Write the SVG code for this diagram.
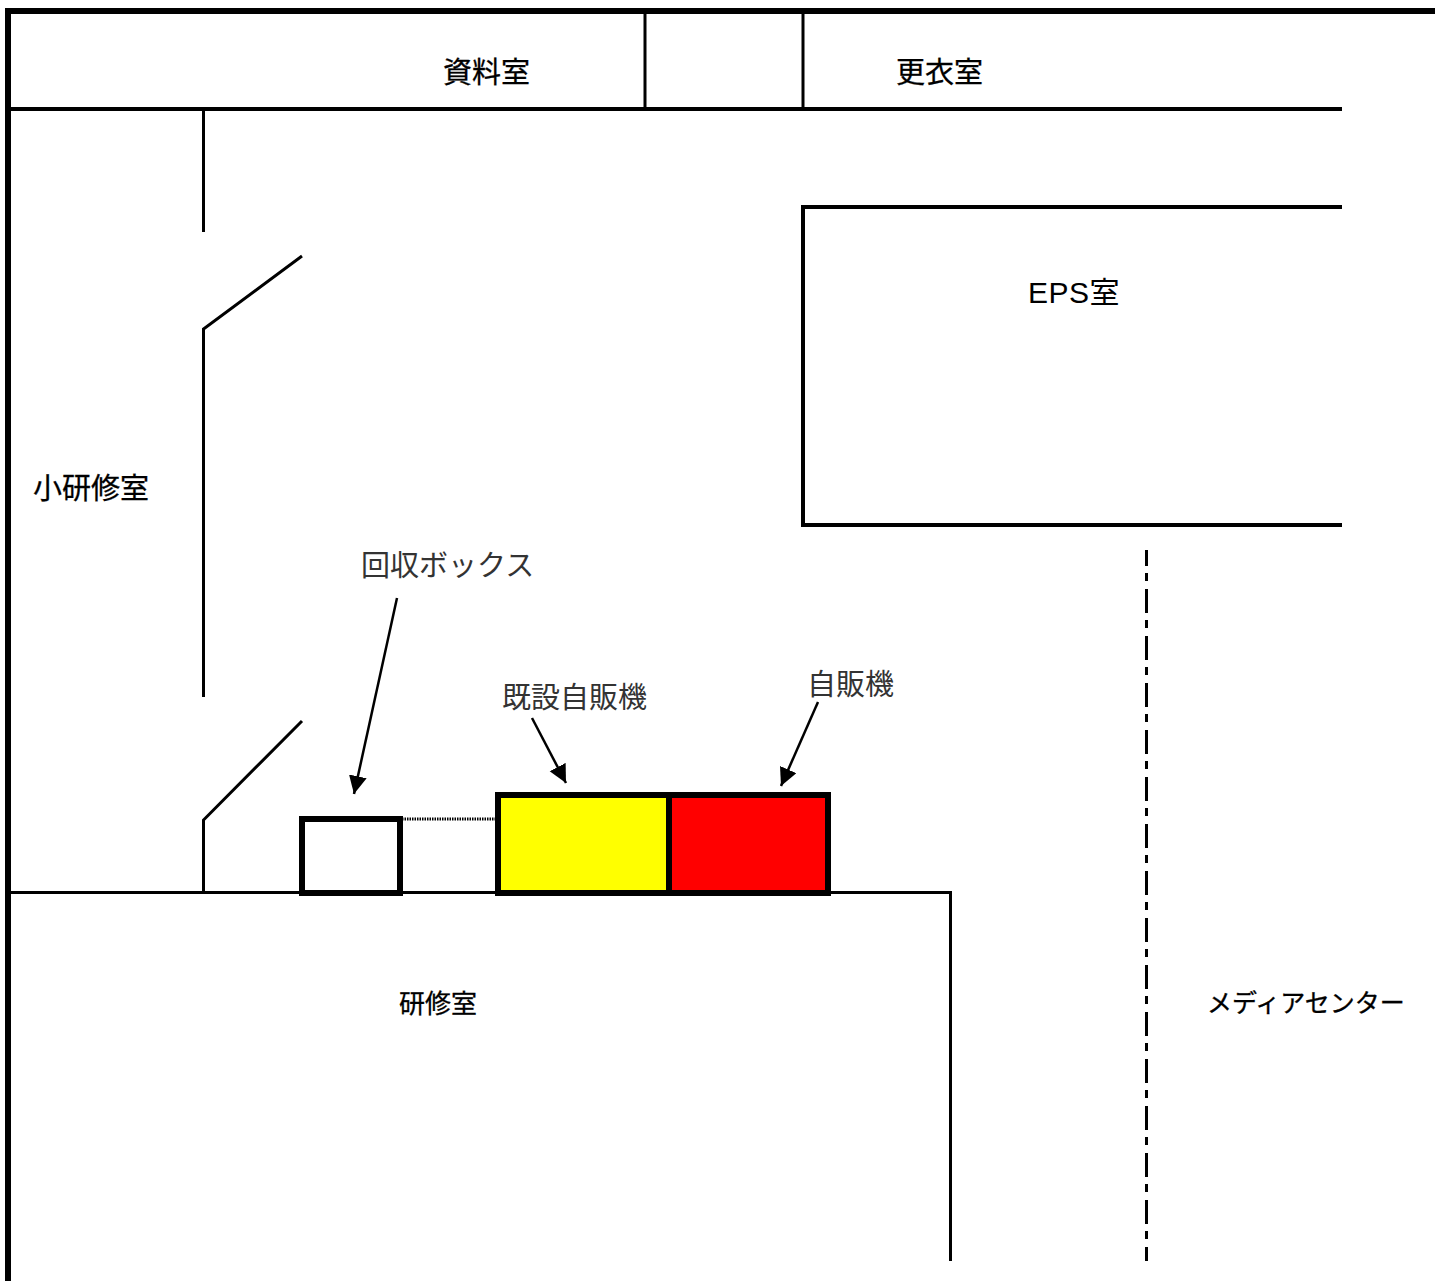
<svg xmlns="http://www.w3.org/2000/svg" width="1435" height="1281" viewBox="0 0 1435 1281">
<defs>
<marker id="ah" markerUnits="userSpaceOnUse" markerWidth="20" markerHeight="20" refX="18" refY="9" orient="auto"><path d="M0 0L18 9L0 18Z" fill="#000"/></marker>
</defs>
<style>
.w{fill:none;stroke:#000;stroke-width:3}
.o{fill:none;stroke:#000;stroke-width:6}
.b{stroke:#000;stroke-width:6}
.a{fill:none;stroke:#000;stroke-width:2.500;marker-end:url(#ah)}
text{font-family:"Noto Sans CJK JP","Liberation Sans",sans-serif;font-size:29px;fill:#000;stroke:#000;stroke-width:.3}
.g{fill:#333;stroke:none}
.s{font-size:26px}
.m{font-size:25px}
</style>
<rect width="1435" height="1281" fill="#fff"/>
<g id="walls">
<path class="o" d="M1435 11H8V1281"/>
<path d="M11 109H1342" fill="none" stroke="#000" stroke-width="4"/>
<path class="w" d="M645 14V108M803 14V108"/>
<path class="w" d="M203.500 110V232M302 256L203.500 329V697M302 721L203.500 820V892"/>
<path d="M1342 207H803V525H1342" fill="none" stroke="#000" stroke-width="4"/>
<path class="w" d="M11 892.500H950.500V1261"/>
<path d="M1146.500 550V1261" fill="none" stroke="#000" stroke-width="3" stroke-dasharray="24 7 8 8" stroke-dashoffset="8"/>
</g>
<g id="connectors">
<path d="M402 819H496" fill="none" stroke="#000" stroke-width="3" stroke-dasharray="1.500 1"/>
<path class="a" d="M397 598L354 794"/>
<path class="a" d="M532 718L566 783"/>
<path class="a" d="M818 702L781 786"/>
</g>
<g id="box"><rect class="b" x="302" y="819" width="98" height="74" fill="#fff"/></g>
<g id="yellow"><rect class="b" x="498" y="795" width="171" height="98" fill="#ff0"/></g>
<g id="red"><rect class="b" x="669" y="795" width="159" height="98" fill="#f00"/></g>
<g id="labels">
<text x="443" y="83">資料室</text>
<text x="896" y="83">更衣室</text>
<text x="1028" y="303" style="font-family:'Liberation Sans','Noto Sans CJK JP',sans-serif;font-size:30px;letter-spacing:.5px;stroke:none">EPS室</text>
<text x="33" y="499">小研修室</text>
<text x="361" y="576" class="g">回収ボックス</text>
<text x="502" y="708" class="g">既設自販機</text>
<text x="807" y="695" class="g">自販機</text>
<text x="399" y="1013" class="s">研修室</text>
<text x="1207" y="1012" class="m">メディアセンター</text>
</g>
</svg>
